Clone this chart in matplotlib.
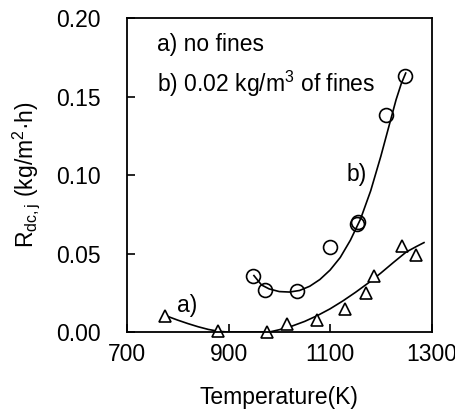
import matplotlib.pyplot as plt

plt.rcParams['font.family'] = ['Liberation Sans', 'DejaVu Sans']
plt.rcParams['mathtext.fontset'] = 'custom'
plt.rcParams['mathtext.rm'] = 'Liberation Sans'
plt.rcParams['mathtext.it'] = 'Liberation Sans'

# a) no fines - measured points
temp_a = [775, 880, 975, 1015, 1075, 1130, 1170, 1186, 1241, 1270]
rate_a = [0.010, 0.001, 0.000, 0.005, 0.008, 0.015, 0.025, 0.036, 0.055, 0.049]

# b) 0.02 kg/m3 of fines - measured points
temp_b = [949, 971, 1035, 1100, 1153, 1156, 1211, 1247]
rate_b = [0.036, 0.027, 0.026, 0.054, 0.069, 0.070, 0.138, 0.163]

# fitted curves
curve_a_t = [780, 800, 820, 840, 860, 880, 900, 980, 1000, 1025, 1050, 1075, 1100,
             1125, 1150, 1175, 1200, 1225, 1250, 1270, 1285]
curve_a_r = [0.0100, 0.0076, 0.0054, 0.0034, 0.0017, 0.0005, 0.0, 0.0, 0.0015, 0.0038,
             0.0068, 0.0105, 0.0148, 0.0198, 0.0253, 0.0312, 0.0376, 0.0444, 0.0510,
             0.0545, 0.0570]

curve_b_t = [950, 965, 980, 1000, 1020, 1040, 1060, 1080, 1100, 1120, 1140, 1160,
             1180, 1200, 1215, 1230, 1240, 1249]
curve_b_r = [0.036, 0.0300, 0.0275, 0.0258, 0.0255, 0.0265, 0.0292, 0.0335, 0.0395,
             0.0475, 0.0585, 0.0720, 0.0900, 0.1120, 0.1300, 0.1480, 0.1580, 0.1650]

fig = plt.figure(figsize=(4.56, 4.12), dpi=100)
ax = fig.add_axes([0.2785, 0.194, 0.668, 0.762])

ax.plot(curve_a_t, curve_a_r, color='black', lw=1.2)
ax.plot(curve_b_t, curve_b_r, color='black', lw=1.2)
ax.plot(temp_a, rate_a, linestyle='none', marker='^', ms=9, mfc='white',
        mec='black', mew=1.2, clip_on=False)
ax.plot(temp_b, rate_b, linestyle='none', marker='o', ms=10, mfc='none',
        mec='black', mew=1.2, clip_on=False)

# legend-like notes and curve labels
ax.text(759, 0.179, 'a) no fines', fontsize=16.5)
ax.text(759, 0.153, 'b) 0.02 kg/m$^3$ of fines', fontsize=16.5)
ax.text(1133, 0.096, 'b)', fontsize=16.5)
ax.text(798, 0.0127, 'a)', fontsize=16.5)

ax.set_xlim(700, 1300)
ax.set_ylim(0, 0.20)
ax.set_xticks([700, 900, 1100, 1300])
ax.set_yticks([0.00, 0.05, 0.10, 0.15, 0.20])
ax.set_yticklabels(['0.00', '0.05', '0.10', '0.15', '0.20'])
ax.tick_params(direction='in', length=6, width=1.2, labelsize=16.5)
ax.tick_params(axis='x', pad=8)
ax.tick_params(axis='y', pad=19)
for s in ax.spines.values():
    s.set_linewidth(1.3)

ax.set_xlabel('Temperature(K)', fontsize=16.5, labelpad=14)
ax.set_ylabel(r'R$_{\mathrm{dc,j}}$ (kg/m$^2$·h)', fontsize=16.5, labelpad=10)

plt.savefig('out.png', dpi=100)
